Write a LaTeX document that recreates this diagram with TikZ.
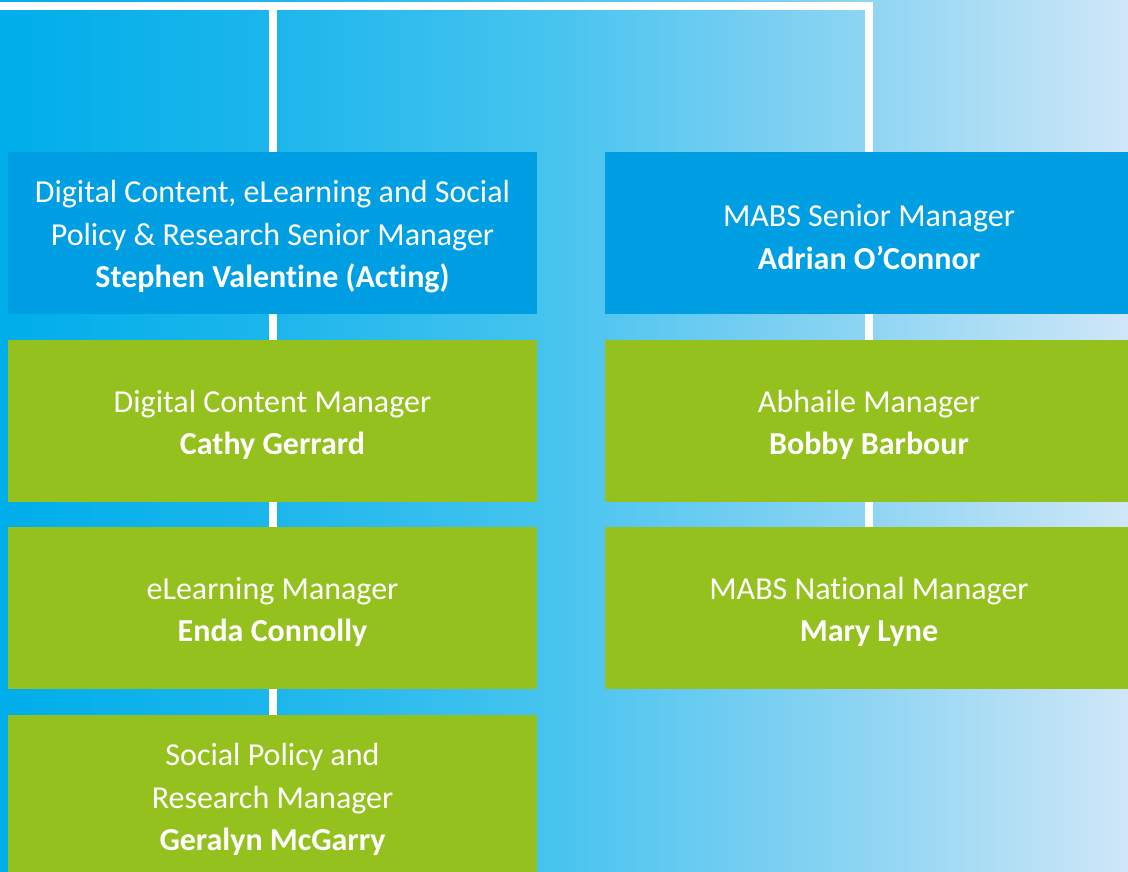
\documentclass[tikz,border=0pt]{standalone}
\usepackage{fontspec}
\setmainfont[Ligatures=NoCommon]{Carlito}
\definecolor{boxblue}{HTML}{009FE3}
\definecolor{boxgreen}{HTML}{95C11F}
\definecolor{bgA}{HTML}{00AEEA}
\definecolor{bgB}{HTML}{1CB6EC}
\definecolor{bgC}{HTML}{48C4EF}
\definecolor{bgD}{HTML}{90D5F3}
\definecolor{bgE}{HTML}{CFE7F8}
\pgfdeclarehorizontalshading{bgshade}{100bp}{color(0bp)=(bgA); color(25bp)=(bgA); color(37bp)=(bgB); color(49.8bp)=(bgC); color(63.6bp)=(bgD); color(75bp)=(bgE); color(100bp)=(bgE)}
\newcommand\mystrut{\rule{0pt}{30pt}}
\begin{document}
\begin{tikzpicture}[x=1pt,y=-1pt,
  card/.style={rectangle, inner sep=0pt, text=white, align=center,
    minimum height=162pt, font=\fontsize{32}{42.5}\selectfont},
  leftcard/.style={card, minimum width=529pt},
  rightcard/.style={card, minimum width=528pt},
  wire/.style={draw=white, line width=8pt, line join=miter}]
\useasboundingbox (0,0) rectangle (1128,872);
\shade[shading=bgshade] (0,0) rectangle (1128,872);
\clip (0,0) rectangle (1128,872);

\node[leftcard, fill=boxblue] (L1) at (272.5,233) {\mystrut Digital Content, eLearning and Social\\Policy \& Research Senior Manager\\\textbf{Stephen Valentine (Acting)}};
\node[leftcard, fill=boxgreen] (L2) at (272.5,421) {\mystrut Digital Content Manager\\\textbf{Cathy Gerrard}};
\node[leftcard, fill=boxgreen] (L3) at (272.5,608) {\mystrut eLearning Manager\\\textbf{Enda Connolly}};
\node[leftcard, fill=boxgreen] (L4) at (272.5,796) {\mystrut Social Policy and\\Research Manager\\\textbf{Geralyn McGarry}};

\node[rightcard, fill=boxblue] (R1) at (869,233) {\mystrut MABS Senior Manager\\\textbf{Adrian O’Connor}};
\node[rightcard, fill=boxgreen] (R2) at (869,421) {\mystrut Abhaile Manager\\\textbf{Bobby Barbour}};
\node[rightcard, fill=boxgreen] (R3) at (869,608) {\mystrut MABS National Manager\\\textbf{Mary Lyne}};

\coordinate (tl) at (0,6);
\coordinate (tj) at (272.5,6);
\coordinate (tr) at (869,6);
\draw[wire] (tl) -- (tr) -- (R1.north);
\draw[wire] (tj) -- (L1.north);
\draw[wire] (L1.south) -- (L2.north);
\draw[wire] (L2.south) -- (L3.north);
\draw[wire] (L3.south) -- (L4.north);
\draw[wire] (R1.south) -- (R2.north);
\draw[wire] (R2.south) -- (R3.north);
\end{tikzpicture}
\end{document}
